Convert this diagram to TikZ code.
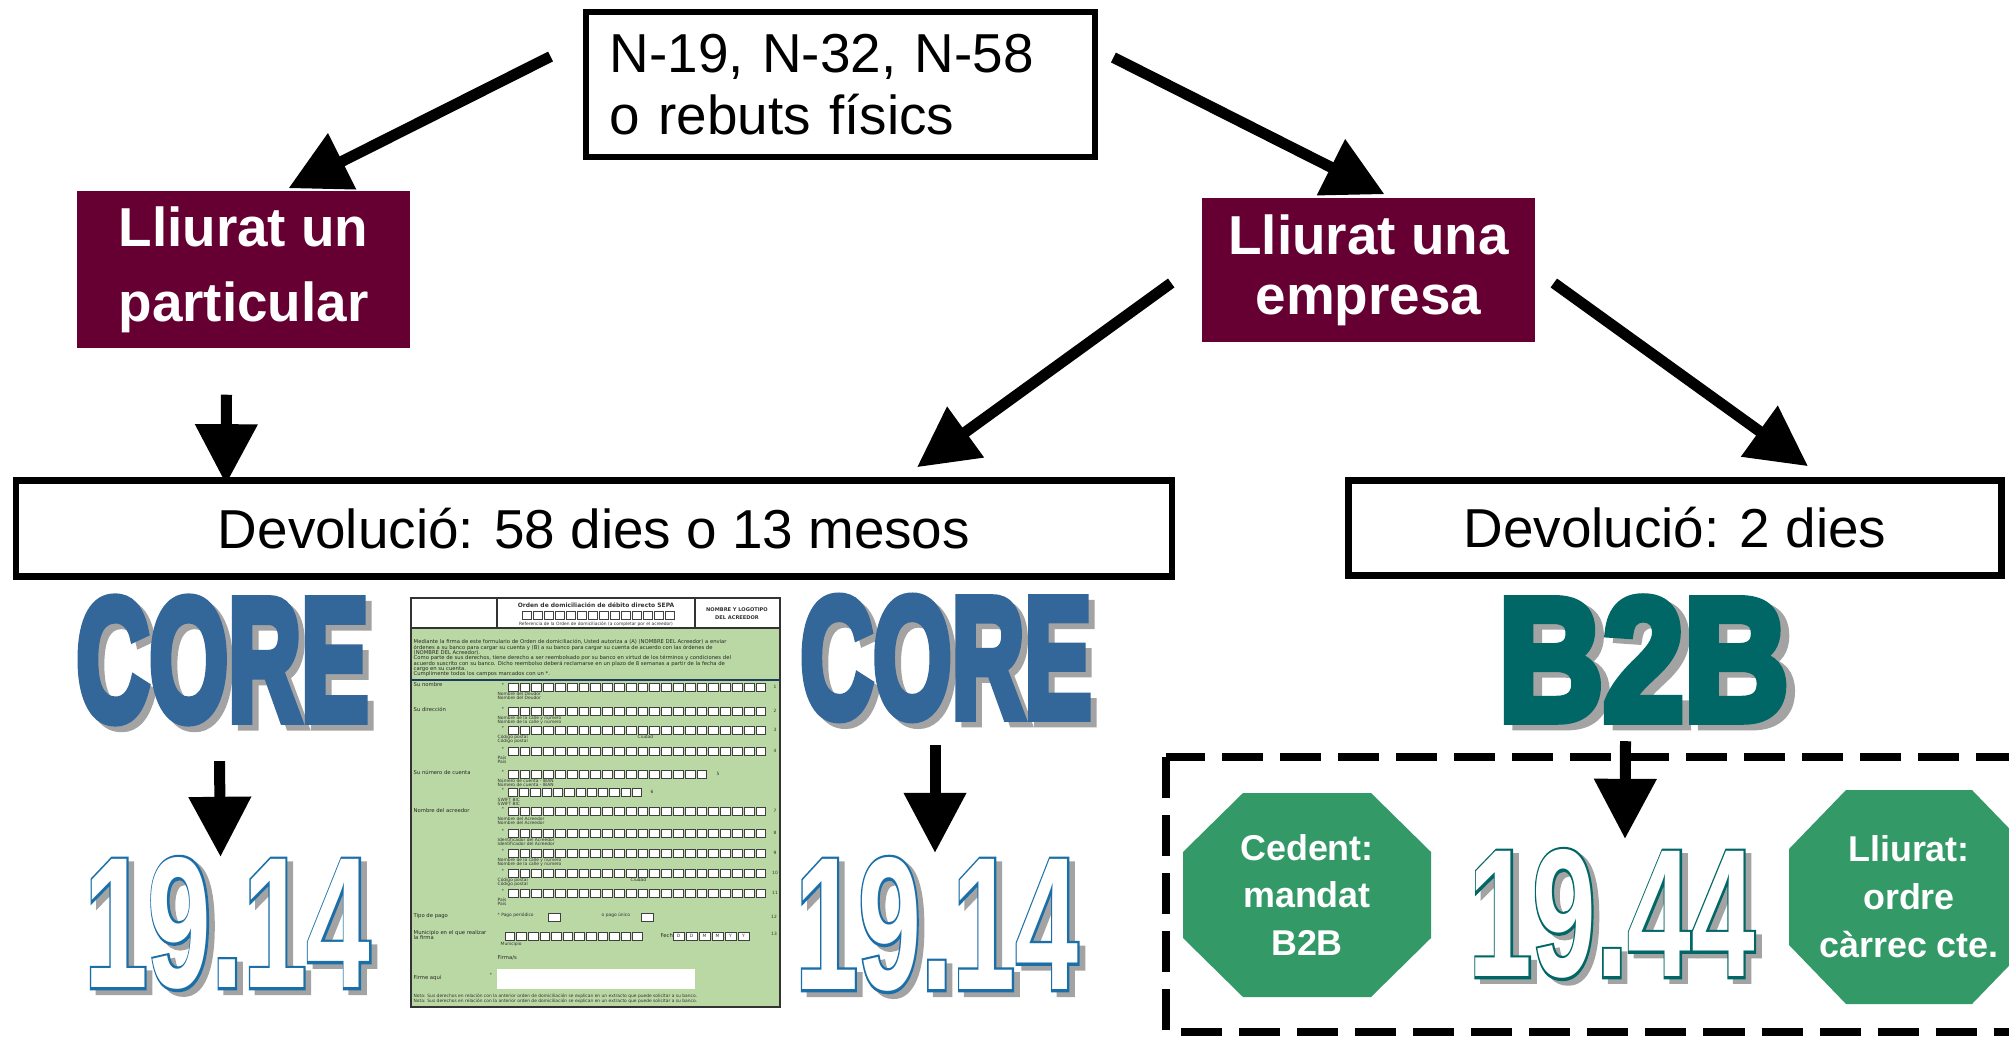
\documentclass[tikz,border=0pt]{standalone}
\usepackage{fontspec}
\setmainfont{Liberation Sans}
\newfontfamily\formfont{DejaVu Sans}
\newfontfamily\heavyfont{Liberation Sans}[BoldFeatures={FakeBold=6}]
\newfontfamily\rimfont{Liberation Sans}[BoldFeatures={FakeBold=3}]
\usepackage{xcolor}
\usepackage{tikz}
\usetikzlibrary{arrows.meta,calc}

\definecolor{maroon}{HTML}{660033}
\definecolor{coreblue}{HTML}{336699}
\definecolor{numblue}{HTML}{1B6FA8}
\definecolor{b2bteal}{HTML}{006666}
\definecolor{octgreen}{HTML}{339966}
\definecolor{formgreen}{HTML}{BAD8A4}
\definecolor{formnavy}{HTML}{1F3A5F}
\definecolor{shadowgray}{HTML}{A3A3A3}

% solid word with a grey shadow behind it
\newcommand\solidword[2]{%
  \rlap{\smash{\hspace{2.4pt}\raisebox{-1.3pt}{\heavyfont\bfseries\textcolor{shadowgray}{#2}}}}%
  {\heavyfont\bfseries\textcolor{#1}{#2}}}
% hollow word: coloured rim, white inside, grey shadow
\newcommand\rimword[2]{%
  \rlap{\smash{\hspace{2pt}\raisebox{-1pt}{\rimfont\bfseries\textcolor{shadowgray}{#2}}}}%
  \rlap{\rimfont\bfseries\textcolor{#1}{#2}}%
  {\bfseries\textcolor{white}{#2}}}

% a row of little boxes: x, y, count, width
\newcommand\cellrow[4]{%
  \foreach \k in {1,...,#3}
    \draw[cellbox] ({#1+(\k-1)*#4},#2) rectangle ++({#4-2},8);}

\tikzset{
  framebox/.style={draw=black, line width=0.065cm, fill=white, inner sep=0pt,
    font=\fontsize{15.6}{17.6}\selectfont},
  choicebox/.style={fill=maroon, text=white, inner sep=0pt, align=center},
  bigarrow/.style={line width=0.11cm, -{Triangle[length=0.6cm,width=0.6cm]}},
  wordart/.style={inner sep=0pt, font=\fontsize{40}{40}\selectfont},
  octtext/.style={text=white, align=center, inner sep=0pt,
    font=\bfseries\fontsize{10.2}{13.6}\selectfont},
  cellbox/.style={fill=white, draw=black!75, line width=0.15pt},
  formtiny/.style={font=\formfont\fontsize{1.25}{1.4}\selectfont, inner sep=0pt, text=black!80},
  formlabel/.style={font=\formfont\fontsize{1.5}{1.6}\selectfont, inner sep=0pt, anchor=west, text=black!85},
}

\begin{document}
\begin{tikzpicture}[x=0.01cm, y=-0.01cm]
  \path[use as bounding box] (0,0) rectangle (2009,1037);
  \clip (0,0) rectangle (2009,1037);
  \fill[white] (0,0) rectangle (2009,1037);

  % Boxes of the tree
  \node[framebox, minimum width=5.09cm, minimum height=1.45cm, text width=4.61cm, align=left]
    (src) at (840.5,84.5) {N-19, N-32, N-58\\o rebuts físics};
  \node[choicebox, minimum width=3.33cm, minimum height=1.57cm,
    font=\bfseries\fontsize{15.6}{21.3}\selectfont] (part) at (243.5,269.5) {Lliurat un\\particular};
  \node[choicebox, minimum width=3.33cm, minimum height=1.44cm,
    font=\bfseries\fontsize{15.6}{17}\selectfont] (emp) at (1368.5,270) {Lliurat una\\empresa};
  \node[framebox, minimum width=11.55cm, minimum height=0.96cm]
    (dev1) at (594,528.5) {Devolució: 58 dies o 13 mesos\hspace{0.45cm}};
  \node[framebox, minimum width=6.53cm, minimum height=0.95cm]
    (dev2) at (1675,528) {Devolució: 2 dies\hspace{0.82cm}};

  \draw[bigarrow] ($(src.west)+(-32,-28)$) -- ($(part.north)+(45,-2)$);
  \draw[bigarrow] ($(src.east)+(15,-27)$) -- ($(emp.north)+(16,-3)$);
  \draw[bigarrow] ($(emp.west)+(-30,13)$) -- ($(dev1.north)+(323,-10)$);
  \draw[bigarrow] ($(emp.east)+(18,13)$) -- ($(dev2.north)+(133,-11)$);
  \draw[bigarrow] ($(part.south)+(-17,46)$) -- ($(dev1.north)+(-368,7)$);

  % SEPA form
  \fill[formgreen] (411,628) rectangle (780,1007);
  \draw[black!80, line width=0.3pt] (411,598) rectangle (780,1007);
  \draw[black!80, line width=0.3pt] (411,628) -- (780,628);
  \draw[black!80, line width=0.3pt] (497,598) -- (497,628);
  \draw[black!80, line width=0.3pt] (695,598) -- (695,628);
  \draw[formnavy, line width=0.7pt] (411,680) -- (780,680);
  \node[font=\formfont\bfseries\fontsize{1.7}{1.8}\selectfont, inner sep=0pt, text=black!80]
    (sepa) at (596,605) {Orden de domiciliación de débito directo SEPA};
  \cellrow{522}{611}{14}{11}
  \node[formtiny] (ref) at (596,624) {Referencia de la Orden de domiciliación (a completar por el acreedor)};
  \node[font=\formfont\bfseries\fontsize{1.45}{2.2}\selectfont, inner sep=0pt, align=center, text=black!80]
    (logo) at (737,614) {NOMBRE Y LOGOTIPO\\DEL ACREEDOR};
  \node[font=\formfont\fontsize{1.5}{1.52}\selectfont, inner sep=0pt, align=left, anchor=north west, text=black!85]
    (intro) at (413,639) {Mediante la firma de este formulario de Orden de domiciliación, Usted autoriza a (A) (NOMBRE DEL Acreedor) a enviar\\
    órdenes a su banco para cargar su cuenta y (B) a su banco para cargar su cuenta de acuerdo con las órdenes de\\
    (NOMBRE DEL Acreedor).\\
    Como parte de sus derechos, tiene derecho a ser reembolsado por su banco en virtud de los términos y condiciones del\\
    acuerdo suscrito con su banco. Dicho reembolso deberá reclamarse en un plazo de 8 semanas a partir de la fecha de\\
    cargo en su cuenta.\\
    Cumplimente todos los campos marcados con un *.};

  \foreach \ry/\rn in {683/1,707/2,726/3,747/4,807/7,829/8,849/9,869/10,889/11} {
    \cellrow{508}{\ry}{22}{11.8}
    \node[formtiny] (star\rn) at (503,\ry+2) {*};
    \node[formtiny] (rowno\rn) at (775,\ry+4) {\rn};
  }
  \cellrow{508}{770}{17}{11.8}
  \node[formtiny] (star5) at (503,772) {*};
  \node[formtiny] (rowno5) at (718,774) {5};
  \cellrow{508}{788}{12}{11.3}
  \node[formtiny] (star6) at (503,790) {*};
  \node[formtiny] (rowno6) at (652,792) {6};

  \node[formlabel] (lab1) at (413,685) {Su nombre};
  \node[formlabel] (lab2) at (413,709) {Su dirección};
  \node[formlabel] (lab5) at (413,772) {Su número de cuenta};
  \node[formlabel] (lab7) at (413,811) {Nombre del acreedor};
  \node[formlabel] (lab12) at (413,916) {Tipo de pago};
  \node[formlabel, align=left] (lab13) at (413,935) {Municipio en el que realizar\\la firma};
  \node[formlabel] (lab14) at (413,978) {Firme aquí};
  \foreach \ly/\lt in {694/Nombre del Deudor/es, 718/Nombre de la calle y número,
      737/Código postal, 758/País, 781/Número de cuenta - IBAN, 800/SWIFT BIC,
      819/Nombre del Acreedor, 840/Identificador del Acreedor, 860/Nombre de la calle y número,
      880/Código postal, 900/País} {
    \node[formtiny, anchor=west] (sub\ly) at (497,\ly) {\lt};
    \node[formtiny, anchor=west] (subb\ly) at (497,\ly+4) {\lt};
  }
  \node[formtiny, anchor=west] (city1) at (637,737) {Ciudad};
  \node[formtiny, anchor=west] (city2) at (630,880) {Ciudad};

  % payment type, place and date
  \node[formtiny, anchor=west] (pay1) at (497,915) {* Pago periódico};
  \node[formtiny, anchor=west] (pay2) at (601,915) {o pago único};
  \draw[cellbox] (548,913) rectangle ++(12,8);
  \draw[cellbox] (641,913) rectangle ++(12,8);
  \node[formtiny] (rowno12) at (774,917) {12};
  \cellrow{505}{932}{12}{11.6}
  \node[formtiny, anchor=west] (muni) at (500,944) {Municipio};
  \node[formlabel] (fecha) at (660,936) {Fecha};
  \foreach \dl [count=\i] in {D,D,M,M,Y,Y} {
    \draw[cellbox] ({673+(\i-1)*13},932) rectangle ++(11,8);
    \node[formtiny] (date\i) at ({678.5+(\i-1)*13},936) {\dl};
  }
  \node[formtiny] (rowno13) at (774,934) {13};
  \node[formlabel] (firma) at (497,958) {Firma/s};
  \node[formtiny] (star14) at (491,975) {*};
  \fill[white] (497,969) rectangle (695,989);
  \node[formtiny, anchor=west] (nota) at (413,996) {Nota: Sus derechos en relación con la anterior orden de domiciliación se explican en un extracto que puede solicitar a su banco.};
  \node[formtiny, anchor=west] (notb) at (413,1001) {Nota: Sus derechos en relación con la anterior orden de domiciliación se explican en un extracto que puede solicitar a su banco.};

  % CORE and B2B
  \node[wordart] (core1) at (222.5,660) {\resizebox{2.92cm}{1.21cm}{\solidword{coreblue}{CORE}}};
  \node[wordart] (n1914a) at (227.5,923.5) {\resizebox{2.86cm}{1.30cm}{\rimword{numblue}{19.14}}};
  \node[wordart] (core2) at (946,658) {\resizebox{2.91cm}{1.19cm}{\solidword{coreblue}{CORE}}};
  \node[wordart] (n1914b) at (937,924.5) {\resizebox{2.83cm}{1.32cm}{\rimword{numblue}{19.14}}};
  \node[wordart] (b2b) at (1643.5,659) {\resizebox{2.90cm}{1.21cm}{\solidword{b2bteal}{B2B}}};

  \draw[line width=0.08cm, dash pattern=on 0.41cm off 0.17cm] (1166,757) rectangle (2100,1032);

  \node[wordart] (n1944) at (1612,914) {\resizebox{2.86cm}{1.27cm}{\rimword{b2bteal}{19.44}}};

  \draw[bigarrow] ($(core1.south)+(-3,39)$) -- ($(n1914a.north)+(-7,0)$);
  \draw[bigarrow] ($(core2.south)+(-11,26)$) -- ($(n1914b.north)+(-2,-4)$);
  \draw[bigarrow] ($(b2b.south)+(-18,21)$) -- ($(n1944.north)+(13,-10)$);

  % Octagons
  \coordinate (cedc) at (1307,895);
  \fill[octgreen, shift={(cedc)}] (-124,-43) -- (-64,-102) -- (64,-102) -- (124,-43)
    -- (124,43) -- (64,102) -- (-64,102) -- (-124,43) -- cycle;
  \node[octtext] (ced) at (cedc) {Cedent:\\mandat\\B2B};
  \coordinate (lliuc) at (1909,897);
  \fill[octgreen, shift={(lliuc)}] (-120,-48) -- (-63,-107) -- (63,-107) -- (120,-48)
    -- (120,48) -- (63,107) -- (-63,107) -- (-120,48) -- cycle;
  \node[octtext] (lliu) at (lliuc) {Lliurat:\\ordre\\càrrec cte.};
\end{tikzpicture}
\end{document}
